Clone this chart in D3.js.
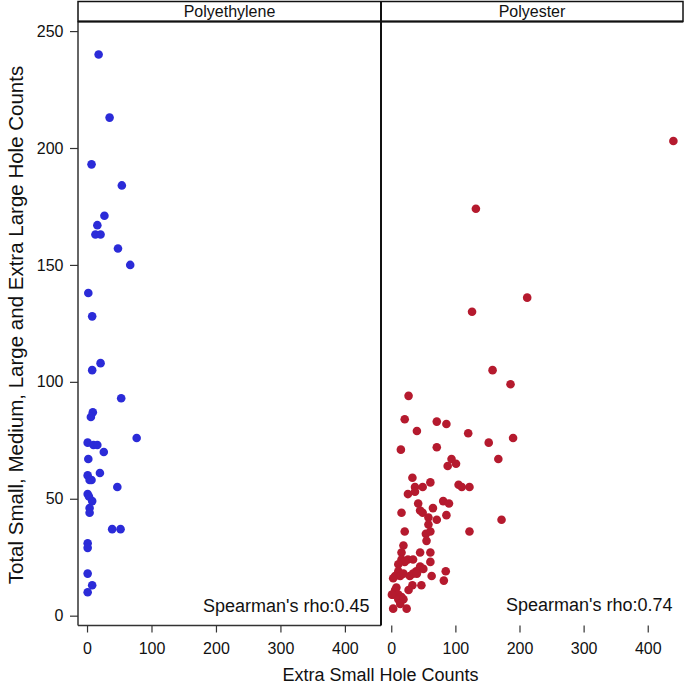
<!DOCTYPE html>
<html>
<head>
<meta charset="utf-8">
<script src="https://cdn.jsdelivr.net/npm/d3@7"></script>
<style>
html,body{margin:0;padding:0;background:#fff;}
svg{display:block;font-family:"Liberation Sans",Arial,sans-serif;}
</style>
</head>
<body>
<svg id="chart" width="684" height="684"></svg>
<script>
// ---- data ----
const panels = ["Polyethylene", "Polyester"];
const rhoLabels = ["Spearman's rho:0.45", "Spearman's rho:0.74"];
const xTicks = [0, 100, 200, 300, 400];
const yTicks = [0, 50, 100, 150, 200, 250];

const peX = [18,35,7,54,27,16,13,21,48,67,2,8,21,8,53,9,6,77,1,10,16,26,2,1,4,7,20,47,1,3,8,4,4,39,52,1,1,1,8,1];
const peY = [240,213,193,184,171,167,163,163,157,150,138,128,108,105,93,87,85,76,74,73,73,70,67,60,58,58,61,55,52,51,49,46,44,37,37,31,29,18,13,10];

const psX = [440,132,212,126,158,186,27,21,71,86,40,120,152,190,15,71,167,94,101,88,33,37,37,49,61,105,110,122,26,42,45,49,65,81,90,16,58,58,71,86,172,122,21,54,61,55,19,16,45,61,61,16,26,34,21,11,45,50,39,85,82,11,6,14,19,3,29,34,40,63,33,47,27,8,6,3,11,16,11,1,3,24,19,14];
const psY = [203,174,136,130,105,99,94,84,83,82,79,78,74,76,71,72,67,67,65,64,59,55,53,55,57,56,55,55,52,48,45,44,46,49,48,44,42,39,41,43,41,36,36,35,36,32,30,27,27,27,23,24,24,24,23,22,21,20,19,19,15,19,17,17,18,16,17,18,18,17,13,13,11,12,11,9,9,8,7,9,3,3,7,5];

const colors = ["#2b2bd8", "#b51a2e"];
const xDomains = [[-14, 456], [-16, 455]];

// ---- layout ----
const L = 78, D = 381, R = 683, T = 21.5, B = 625.5, stripTop = 1.5;
const svg = d3.select("#chart");

const y = d3.scaleLinear().domain([-4.2, 254.1]).range([B, T]);
const xs = [
  d3.scaleLinear().domain(xDomains[0]).range([L, D]),
  d3.scaleLinear().domain(xDomains[1]).range([D, R])
];
const seriesX = [peX, psX], seriesY = [peY, psY];

// points
panels.forEach((p, i) => {
  const pts = seriesX[i].map((v, k) => ({x: v, y: seriesY[i][k]}));
  svg.append("g").selectAll("circle").data(pts).enter().append("circle")
    .attr("cx", d => xs[i](d.x)).attr("cy", d => y(d.y)).attr("r", 4.3)
    .attr("fill", colors[i]);
});

// x axes
panels.forEach((p, i) => {
  const g = svg.append("g").attr("transform", `translate(0,${B})`)
    .call(d3.axisBottom(xs[i]).tickValues(xTicks).tickSize(7).tickPadding(10).tickSizeOuter(0));
  g.select(".domain").remove();
  g.selectAll(".tick line").attr("stroke", "#333").attr("stroke-width", 1.2);
  g.selectAll(".tick text").attr("font-size", 16).attr("fill", "#111")
    .attr("font-family", "Liberation Sans, Arial, sans-serif");
});
// bottom line under left panel
svg.append("line").attr("x1", L).attr("x2", D).attr("y1", B).attr("y2", B)
  .attr("stroke", "#333").attr("stroke-width", 1.5);

// y axis
const ya = svg.append("g").attr("transform", `translate(${L},0)`)
  .call(d3.axisLeft(y).tickValues(yTicks).tickSize(8).tickPadding(6.5).tickSizeOuter(0));
ya.select(".domain").remove();
ya.selectAll(".tick line").attr("stroke", "#333").attr("stroke-width", 1.2);
ya.selectAll(".tick text").attr("font-size", 16).attr("fill", "#111")
  .attr("font-family", "Liberation Sans, Arial, sans-serif");
svg.append("line").attr("x1", L).attr("x2", L).attr("y1", T).attr("y2", B)
  .attr("stroke", "#333").attr("stroke-width", 1.5);

// divider
svg.append("line").attr("x1", D).attr("x2", D).attr("y1", stripTop).attr("y2", B)
  .attr("stroke", "#111").attr("stroke-width", 2);

// strip
svg.append("rect").attr("x", L).attr("y", stripTop).attr("width", R - L).attr("height", T - stripTop)
  .attr("fill", "none").attr("stroke", "#111").attr("stroke-width", 1.5);
svg.append("line").attr("x1", L).attr("x2", R).attr("y1", T).attr("y2", T)
  .attr("stroke", "#111").attr("stroke-width", 2);
panels.forEach((p, i) => {
  const cx = i === 0 ? (L + D) / 2 : (D + R) / 2;
  svg.append("text").attr("x", cx).attr("y", 16.7).attr("text-anchor", "middle")
    .attr("font-size", 16).attr("fill", "#111").text(p);
});

// rho labels
svg.append("text").attr("x", 369.5).attr("y", 611.5).attr("text-anchor", "end")
  .attr("font-size", 18).attr("fill", "#111").text(rhoLabels[0]);
svg.append("text").attr("x", 672.5).attr("y", 610.7).attr("text-anchor", "end")
  .attr("font-size", 18).attr("fill", "#111").text(rhoLabels[1]);

// axis titles
svg.append("text").attr("x", (L + R) / 2).attr("y", 680.5).attr("text-anchor", "middle")
  .attr("font-size", 18).attr("fill", "#111").text("Extra Small Hole Counts");
svg.append("text").attr("transform", `translate(23,325) rotate(-90)`)
  .attr("text-anchor", "middle").attr("font-size", 20.5).attr("fill", "#111")
  .text("Total Small, Medium, Large and Extra Large Hole Counts");
</script>
</body>
</html>
